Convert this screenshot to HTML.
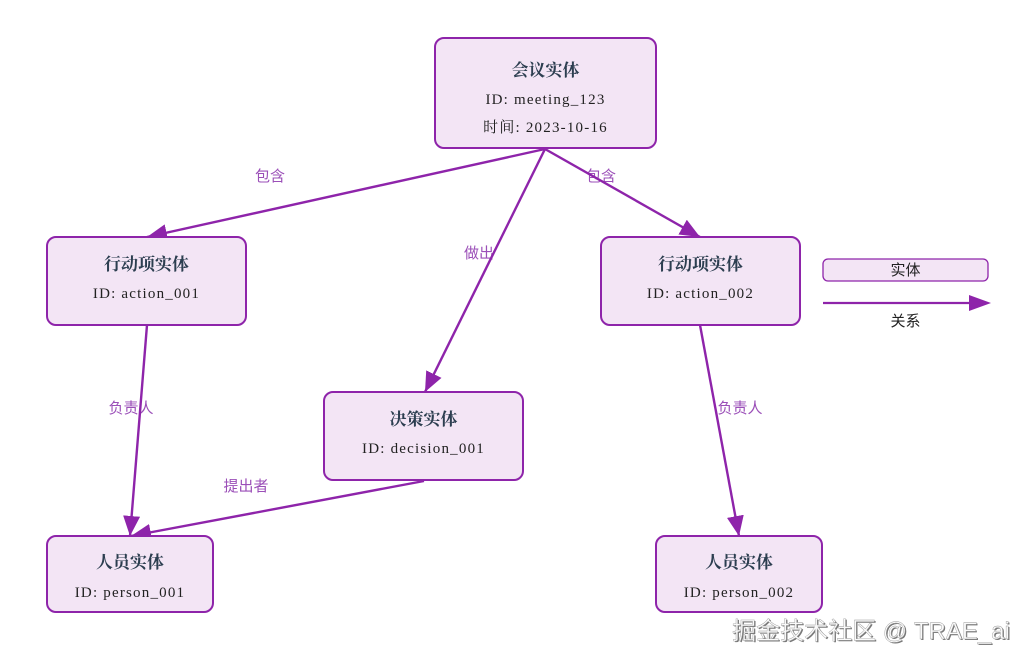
<!DOCTYPE html>
<html>
<head>
<meta charset="utf-8">
<style>
html,body{margin:0;padding:0;background:#fff;}
svg{display:block;}
.box{fill:#f3e5f5;stroke:#8e24aa;stroke-width:2;}
.t{font-family:"Liberation Serif","Noto Serif CJK SC",serif;font-weight:bold;font-size:17px;fill:#2c3e50;text-anchor:middle;}
.s{font-family:"Liberation Serif","Noto Serif CJK SC",serif;font-size:15px;letter-spacing:1.2px;fill:#222;text-anchor:middle;}
.lbl{font-family:"Liberation Sans","Noto Sans CJK SC",sans-serif;font-size:15px;fill:#9b4fb8;text-anchor:middle;}
.e{stroke:#8e24aa;stroke-width:2.4;fill:none;}
</style>
</head>
<body>
<svg width="1032" height="663" viewBox="0 0 1032 663" xmlns="http://www.w3.org/2000/svg">
<defs>
<marker id="ar" markerUnits="userSpaceOnUse" markerWidth="22" markerHeight="18" refX="20" refY="8.5" orient="auto">
<path d="M0,0 L20,8.5 L0,17 Z" fill="#8e24aa"/>
</marker>
</defs>

<!-- edge labels (behind lines) -->
<text class="lbl" x="270" y="181">包含</text>
<text class="lbl" x="479" y="258">做出</text>
<text class="lbl" x="601" y="181">包含</text>
<text class="lbl" x="131" y="413">负责人</text>
<text class="lbl" x="246" y="491">提出者</text>
<text class="lbl" x="740" y="413">负责人</text>

<!-- edges -->
<line class="e" x1="545" y1="149" x2="147" y2="237" marker-end="url(#ar)"/>
<line class="e" x1="545" y1="149" x2="425" y2="392" marker-end="url(#ar)"/>
<line class="e" x1="545" y1="149" x2="700" y2="237" marker-end="url(#ar)"/>
<line class="e" x1="147" y1="325" x2="130" y2="536" marker-end="url(#ar)"/>
<line class="e" x1="424" y1="481" x2="131" y2="536" marker-end="url(#ar)"/>
<line class="e" x1="700" y1="325" x2="739" y2="536" marker-end="url(#ar)"/>

<!-- meeting -->
<rect class="box" x="435" y="38" width="221" height="110" rx="9"/>
<text class="t" x="545.5" y="76">会议实体</text>
<text class="s" x="545.5" y="104">ID: meeting_123</text>
<text class="s" x="545.5" y="132">时间: 2023-10-16</text>

<!-- action 001 -->
<rect class="box" x="47" y="237" width="199" height="88" rx="9"/>
<text class="t" x="146.5" y="270">行动项实体</text>
<text class="s" x="146.5" y="298">ID: action_001</text>

<!-- action 002 -->
<rect class="box" x="601" y="237" width="199" height="88" rx="9"/>
<text class="t" x="700.5" y="270">行动项实体</text>
<text class="s" x="700.5" y="298">ID: action_002</text>

<!-- decision -->
<rect class="box" x="324" y="392" width="199" height="88" rx="9"/>
<text class="t" x="423.5" y="425">决策实体</text>
<text class="s" x="423.5" y="453">ID: decision_001</text>

<!-- person 001 -->
<rect class="box" x="47" y="536" width="166" height="76" rx="9"/>
<text class="t" x="130" y="568">人员实体</text>
<text class="s" x="130" y="597">ID: person_001</text>

<!-- person 002 -->
<rect class="box" x="656" y="536" width="166" height="76" rx="9"/>
<text class="t" x="739" y="568">人员实体</text>
<text class="s" x="739" y="597">ID: person_002</text>

<!-- legend -->
<rect x="823" y="259" width="165" height="22" rx="5" fill="#f3e5f5" stroke="#8e24aa" stroke-width="1.3"/>
<text x="905.5" y="275" font-family="'Liberation Sans','Noto Sans CJK SC',sans-serif" font-size="15" fill="#222" text-anchor="middle">实体</text>
<line x1="823" y1="303" x2="972" y2="303" stroke="#8e24aa" stroke-width="2.2"/>
<path d="M969,295 L991,303 L969,311 Z" fill="#8e24aa"/>
<text x="905.5" y="326" font-family="'Liberation Sans','Noto Sans CJK SC',sans-serif" font-size="15" fill="#222" text-anchor="middle">关系</text>

<!-- watermark -->
<text x="871" y="639" font-family="'Liberation Sans','Noto Sans CJK SC',sans-serif" font-size="24" fill="#777" text-anchor="middle" transform="translate(1.2,1.2)">掘金技术社区 @ TRAE_ai</text>
<text x="871" y="639" font-family="'Liberation Sans','Noto Sans CJK SC',sans-serif" font-size="24" fill="#fafafa" stroke="#999" stroke-width="0.4" text-anchor="middle">掘金技术社区 @ TRAE_ai</text>
</svg>
</body>
</html>
